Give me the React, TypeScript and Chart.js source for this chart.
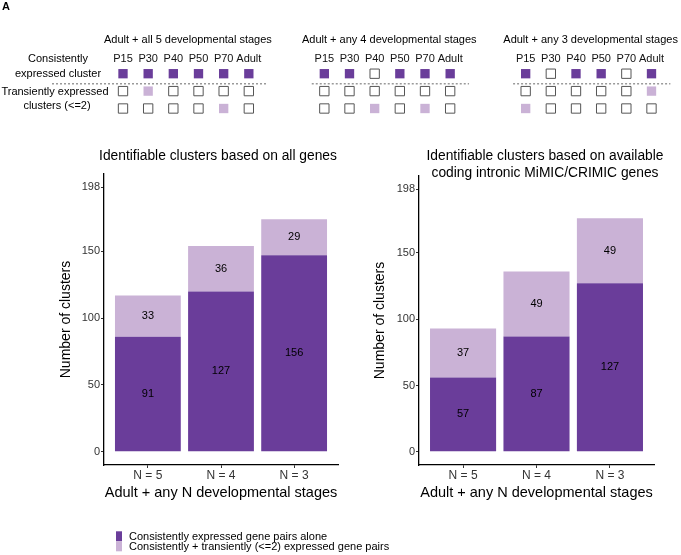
import React, { useEffect, useRef } from 'react';
import { Chart, registerables } from 'chart.js';

Chart.register(...registerables);

const FONT = "'Liberation Sans', Arial, Helvetica, sans-serif";

// ---------- bar chart data ----------
const CATEGORIES = ['N = 5', 'N = 4', 'N = 3'];
const CATEGORY_POS = [1, 2, 3];
const Y_TICKS = [0, 50, 100, 150, 198];

const ALL_CONSISTENT = [86, 120, 147];
const ALL_TRANSIENT = [31, 34, 27];
const ALL_CONSISTENT_LABELS = ['91', '127', '156'];
const ALL_TRANSIENT_LABELS = ['33', '36', '29'];

const MIMIC_CONSISTENT = [56, 87, 127];
const MIMIC_TRANSIENT = [37, 49, 49];
const MIMIC_CONSISTENT_LABELS = ['57', '87', '127'];
const MIMIC_TRANSIENT_LABELS = ['37', '49', '49'];

const SERIES_NAMES = [
  'Consistently expressed gene pairs alone',
  'Consistently + transiently (<=2) expressed gene pairs',
];
const LEFT_TITLE = ['Identifiable clusters based on all genes'];
const RIGHT_TITLE = ['Identifiable clusters based on available', 'coding intronic MiMIC/CRIMIC genes'];
const X_TITLE = 'Adult + any N developmental stages';
const Y_TITLE = 'Number of clusters';

const DARK = '#6A3D9A';
const LIGHT = '#CAB2D6';

// ---------- schematic data ----------
const STAGES = ['P15', 'P30', 'P40', 'P50', 'P70', 'Adult'];
const PANEL_TITLES = [
  'Adult + all 5 developmental stages',
  'Adult + any 4 developmental stages',
  'Adult + any 3 developmental stages',
];
// D = consistently expressed, L = transiently expressed, E = not expressed
const PANEL_PATTERNS = [
  ['DDDDDD', 'ELEEEE', 'EEEELE'],
  ['DDEDDD', 'EEEEEE', 'EELELE'],
  ['DEDDED', 'EEEEEL', 'LEEEEE'],
];
const ROW_LABELS = [
  ['Consistently', 'expressed cluster'],
  ['Transiently expressed', 'clusters (<=2)'],
];
const PANEL_STRIDE = 8;

// ---------- plugins ----------
const valueLabelPlugin = {
  id: 'valueLabels',
  afterDatasetsDraw(chart: any) {
    const ctx = chart.ctx;
    ctx.save();
    ctx.font = `11px ${FONT}`;
    ctx.fillStyle = '#000';
    ctx.textAlign = 'center';
    ctx.textBaseline = 'middle';
    chart.data.datasets.forEach((ds: any, di: number) => {
      const meta = chart.getDatasetMeta(di);
      meta.data.forEach((el: any, i: number) => {
        const p = el.getProps(['x', 'y', 'base'], true);
        ctx.fillText(ds.valueLabels[i], p.x, (p.y + p.base) / 2);
      });
    });
    ctx.restore();
  },
};

function makeTitlePlugin(lines: string[], cx: number, y0: number, lh: number) {
  return {
    id: 'panelTitle',
    afterDraw(chart: any) {
      const ctx = chart.ctx;
      ctx.save();
      ctx.font = `13.8px ${FONT}`;
      ctx.fillStyle = '#000';
      ctx.textAlign = 'center';
      ctx.textBaseline = 'middle';
      lines.forEach((t, i) => ctx.fillText(t, cx, y0 + i * lh));
      ctx.restore();
    },
  };
}

const legendPlugin = {
  id: 'bottomLegend',
  afterDraw(chart: any) {
    const ctx = chart.ctx;
    ctx.save();
    ctx.font = `11px ${FONT}`;
    ctx.textAlign = 'left';
    ctx.textBaseline = 'middle';
    chart.data.datasets.forEach((ds: any, i: number) => {
      const ky = 391.3 + i * 10;
      ctx.fillStyle = ds.backgroundColor;
      ctx.fillRect(66, ky, 6, 10);
      ctx.fillStyle = '#000';
      ctx.fillText(ds.label, 79, 396.7 + i * 10.6);
    });
    ctx.restore();
  },
};

function BarPanel(props: {
  left: number; width: number; height: number;
  consistent: number[]; transient: number[];
  cLabels: string[]; tLabels: string[];
  title: string[]; titleX: number;
  padTop: number; padRight: number; padBottom: number; yTitlePad: number;
  legend: boolean;
}) {
  const ref = useRef<HTMLCanvasElement>(null);
  useEffect(() => {
    const plugins: any[] = [valueLabelPlugin, makeTitlePlugin(props.title, props.titleX, 16, 17.3)];
    if (props.legend) plugins.push(legendPlugin);
    const chart = new Chart(ref.current as HTMLCanvasElement, {
      type: 'bar',
      data: {
        datasets: [
          {
            label: SERIES_NAMES[0],
            data: CATEGORY_POS.map((x, i) => ({ x, y: props.consistent[i] })),
            backgroundColor: DARK,
            categoryPercentage: 0.9,
            barPercentage: 1,
            valueLabels: props.cLabels,
          } as any,
          {
            label: SERIES_NAMES[1],
            data: CATEGORY_POS.map((x, i) => ({ x, y: props.transient[i] })),
            backgroundColor: LIGHT,
            categoryPercentage: 0.9,
            barPercentage: 1,
            valueLabels: props.tLabels,
          } as any,
        ],
      },
      options: {
        animation: false,
        responsive: false,
        maintainAspectRatio: false,
        layout: { padding: { left: 0, right: props.padRight, top: props.padTop, bottom: props.padBottom } },
        plugins: { legend: { display: false }, tooltip: { enabled: false }, title: { display: false } },
        scales: {
          x: {
            type: 'linear',
            min: 0.4,
            max: 3.6,
            offset: false,
            stacked: true,
            afterBuildTicks: (s: any) => { s.ticks = CATEGORY_POS.map((v) => ({ value: v })); },
            afterFit: (s: any) => { s.height = 40; },
            ticks: {
              callback: (v: any) => { const k = CATEGORY_POS.indexOf(v); return k >= 0 ? CATEGORIES[k] : ''; },
              font: { size: 12, family: FONT },
              color: '#333',
              padding: 0,
              autoSkip: false,
              maxRotation: 0,
            },
            grid: { offset: false, drawOnChartArea: false, drawTicks: true, tickLength: 3, tickColor: '#333', tickWidth: 1 },
            border: { display: true, color: '#000', width: 1.3 },
            title: { display: true, text: X_TITLE, font: { size: 14.5, family: FONT }, color: '#000', padding: { top: 0, bottom: 3.6 } },
          },
          y: {
            type: 'linear',
            min: -9.9,
            max: 207.9,
            stacked: true,
            afterBuildTicks: (s: any) => { s.ticks = Y_TICKS.map((v) => ({ value: v })); },
            afterFit: (s: any) => { s.width = 54; },
            ticks: { font: { size: 11, family: FONT }, color: '#333', padding: 1 },
            grid: { drawOnChartArea: false, drawTicks: true, tickLength: 3, tickColor: '#333', tickWidth: 1 },
            border: { display: true, color: '#000', width: 1.3 },
            title: { display: true, text: Y_TITLE, font: { size: 14, family: FONT }, color: '#000', padding: { top: props.yTitlePad, bottom: 0 } },
          },
        },
      } as any,
      plugins,
    });
    return () => chart.destroy();
  }, []);
  return (
    <canvas ref={ref} width={props.width} height={props.height}
      style={{ position: 'absolute', left: props.left, top: 140, width: props.width, height: props.height }} />
  );
}

const schematicPlugin = {
  id: 'schematicDecor',
  afterDraw(chart: any) {
    const ctx = chart.ctx;
    const xs = chart.scales.x;
    const ys = chart.scales.y;
    ctx.save();
    // panel tag
    ctx.font = `bold 11px ${FONT}`;
    ctx.fillStyle = '#000';
    ctx.textAlign = 'left';
    ctx.textBaseline = 'top';
    ctx.fillText('A', 2, 1);
    // titles
    ctx.font = `11px ${FONT}`;
    ctx.textAlign = 'center';
    ctx.textBaseline = 'middle';
    PANEL_TITLES.forEach((t, p) => {
      const cx = (xs.getPixelForValue(p * PANEL_STRIDE) + xs.getPixelForValue(p * PANEL_STRIDE + 5)) / 2 + 2;
      ctx.fillText(t, cx, 40);
    });
    // dashed separators
    const yd = ys.getPixelForValue(0) + 10;
    ctx.strokeStyle = '#9a9a9a';
    ctx.lineWidth = 1.5;
    ctx.setLineDash([2, 2]);
    PANEL_TITLES.forEach((_, p) => {
      const x0 = p === 0 ? 52 : xs.getPixelForValue(p * PANEL_STRIDE - 0.5);
      const x1 = xs.getPixelForValue(p * PANEL_STRIDE + 5.75);
      ctx.beginPath();
      ctx.moveTo(x0, yd);
      ctx.lineTo(x1, yd);
      ctx.stroke();
    });
    ctx.setLineDash([]);
    // row labels
    const r0 = ys.getPixelForValue(0);
    const r1 = ys.getPixelForValue(1);
    ctx.fillText(ROW_LABELS[0][0], 58, r0 - 14.5);
    ctx.fillText(ROW_LABELS[0][1], 58, r0 + 0.6);
    ctx.fillText(ROW_LABELS[1][0], 55, r1 + 0.6);
    ctx.fillText(ROW_LABELS[1][1], 57, r1 + 14.6);
    ctx.restore();
  },
};

function Schematic() {
  const ref = useRef<HTMLCanvasElement>(null);
  useEffect(() => {
    const pts: Record<string, { x: number; y: number }[]> = { D: [], L: [], E: [] };
    PANEL_PATTERNS.forEach((rows, p) =>
      rows.forEach((row, r) =>
        row.split('').forEach((ch, c) => pts[ch].push({ x: p * PANEL_STRIDE + c, y: r }))));
    const tickVals: number[] = [];
    PANEL_PATTERNS.forEach((_, p) => STAGES.forEach((__, c) => tickVals.push(p * PANEL_STRIDE + c)));
    const common = { pointStyle: 'rect', pointRadius: 6.6, showLine: false, clip: false };
    const chart = new Chart(ref.current as HTMLCanvasElement, {
      type: 'scatter',
      data: {
        datasets: [
          { ...common, label: 'consistent', data: pts.D, pointBackgroundColor: DARK, pointBorderWidth: 0, pointBorderColor: DARK },
          { ...common, label: 'transient', data: pts.L, pointBackgroundColor: LIGHT, pointBorderWidth: 0, pointBorderColor: LIGHT },
          { ...common, label: 'none', data: pts.E, pointBackgroundColor: '#ffffff', pointBorderWidth: 1, pointBorderColor: '#555555' },
        ] as any,
      },
      options: {
        animation: false,
        responsive: false,
        maintainAspectRatio: false,
        layout: { padding: { left: 123, right: 29.5, top: 40, bottom: 16.5 } },
        plugins: { legend: { display: false }, tooltip: { enabled: false } },
        scales: {
          x: {
            type: 'linear',
            position: 'top',
            min: 0,
            max: 21,
            afterBuildTicks: (s: any) => { s.ticks = tickVals.map((v) => ({ value: v })); },
            afterFit: (s: any) => { s.height = 33.7; },
            ticks: {
              callback: (v: any) => STAGES[v % PANEL_STRIDE] ?? '',
              font: { size: 11, family: FONT },
              color: '#111',
              padding: 8.1,
              autoSkip: false,
              maxRotation: 0,
            },
            grid: { display: false, drawTicks: false },
            border: { display: false },
          },
          y: { type: 'linear', min: 0, max: 2, reverse: true, display: false },
        },
      } as any,
      plugins: [schematicPlugin],
    });
    return () => chart.destroy();
  }, []);
  return <canvas ref={ref} width={681} height={125} style={{ position: 'absolute', left: 0, top: 0, width: 681, height: 125 }} />;
}

export default function App() {
  return (
    <div style={{ position: 'absolute', left: 0, top: 0, width: 681, height: 555, background: '#ffffff', overflow: 'hidden' }}>
      <Schematic />
      <BarPanel left={50} width={400} height={415}
        consistent={ALL_CONSISTENT} transient={ALL_TRANSIENT}
        cLabels={ALL_CONSISTENT_LABELS} tLabels={ALL_TRANSIENT_LABELS}
        title={LEFT_TITLE} titleX={168}
        padTop={34} padRight={112} padBottom={50} yTitlePad={8.1} legend={true} />
      <BarPanel left={365} width={300} height={365}
        consistent={MIMIC_CONSISTENT} transient={MIMIC_TRANSIENT}
        cLabels={MIMIC_CONSISTENT_LABELS} tLabels={MIMIC_TRANSIENT_LABELS}
        title={RIGHT_TITLE} titleX={180}
        padTop={36} padRight={11} padBottom={0} yTitlePad={6.6} legend={false} />
    </div>
  );
}
